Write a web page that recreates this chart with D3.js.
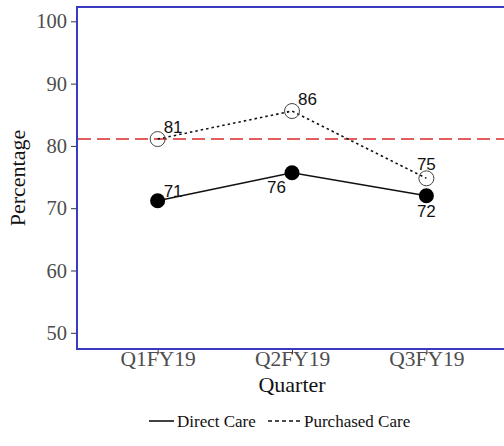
<!DOCTYPE html>
<html><head><meta charset="utf-8">
<script src="https://cdn.jsdelivr.net/npm/d3@7"></script>
<style>body{margin:0;background:#fff}svg{display:block}</style>
</head><body><svg id="c" width="504" height="446"></svg>
<script>
const quarters = ["Q1FY19", "Q2FY19", "Q3FY19"];
const directCare = [71.2, 75.7, 72.0];
const purchasedCare = [81.1, 85.6, 74.8];
const directLabels = ["71", "76", "72"];
const purchasedLabels = ["81", "86", "75"];
const benchmark = 81.1;
const yTicks = [50, 60, 70, 80, 90, 100];

const svg = d3.select("#c");
const L = 77, T = 7, R = 507, B = 349;
const x = d3.scalePoint().domain(quarters).range([L, R]).padding(0.6);
const y = d3.scaleLinear().domain([47.4, 102.3]).range([B, T]);

// axes
const yAxis = svg.append("g").attr("transform", `translate(${L},0)`)
  .call(d3.axisLeft(y).tickValues(yTicks).tickSize(6).tickPadding(4));
yAxis.select(".domain").remove();
yAxis.selectAll("line").attr("stroke", "#333");
yAxis.selectAll("text").attr("font-family", "Liberation Serif").attr("font-size", 20.5).attr("fill", "#4d4d4d");

const xAxis = svg.append("g").attr("transform", `translate(0,${B})`)
  .call(d3.axisBottom(x).tickSize(5).tickPadding(3));
xAxis.select(".domain").remove();
xAxis.selectAll("line").attr("stroke", "#333");
xAxis.selectAll("text").attr("font-family", "Liberation Serif").attr("font-size", 21.5).attr("fill", "#4d4d4d")
  .attr("y", 17).attr("dy", 0);

// panel border (left, top, bottom)
svg.append("path").attr("d", `M${R},${T}H${L}V${B}H${R}`)
  .attr("fill", "none").attr("stroke", "#3a3ac0").attr("stroke-width", 2);

// benchmark
svg.append("line").attr("x1", L + 1).attr("x2", R).attr("y1", y(benchmark)).attr("y2", y(benchmark))
  .attr("stroke", "#d92a2a").attr("stroke-width", 1.6).attr("stroke-dasharray", "13,6");

const line = d3.line().x((d, i) => x(quarters[i])).y(d => y(d));
svg.append("path").datum(purchasedCare).attr("d", line).attr("fill", "none")
  .attr("stroke", "#111").attr("stroke-width", 1.6).attr("stroke-dasharray", "2.5,3");
svg.append("path").datum(directCare).attr("d", line).attr("fill", "none")
  .attr("stroke", "#111").attr("stroke-width", 1.6);

svg.selectAll(".pc").data(purchasedCare).enter().append("circle")
  .attr("cx", (d, i) => x(quarters[i])).attr("cy", d => y(d)).attr("r", 7.5)
  .attr("fill", "none").attr("stroke", "#444").attr("stroke-width", 1);
svg.selectAll(".dc").data(directCare).enter().append("circle")
  .attr("cx", (d, i) => x(quarters[i])).attr("cy", d => y(d)).attr("r", 7.5)
  .attr("fill", "#000");

// value labels
const pOff = [[6, -6, "start"], [6, -6, "start"], [0, -8, "middle"]];
const dOff = [[6, -4, "start"], [-6, 20, "end"], [0, 21, "middle"]];
function labels(vals, labs, offs) {
  svg.selectAll(null).data(vals).enter().append("text")
    .attr("x", (d, i) => x(quarters[i]) + offs[i][0])
    .attr("y", (d, i) => y(d) + offs[i][1])
    .attr("text-anchor", (d, i) => offs[i][2])
    .attr("font-family", "Liberation Sans").attr("font-size", 17).attr("fill", "#111")
    .text((d, i) => labs[i]);
}
labels(purchasedCare, purchasedLabels, pOff);
labels(directCare, directLabels, dOff);

// axis titles
svg.append("text").attr("x", (L + R) / 2).attr("y", 392).attr("text-anchor", "middle")
  .attr("font-family", "Liberation Serif").attr("font-size", 22).attr("fill", "#111").text("Quarter");
svg.append("text").attr("transform", `translate(25,${(T + B) / 2}) rotate(-90)`).attr("text-anchor", "middle")
  .attr("font-family", "Liberation Serif").attr("font-size", 22).attr("fill", "#111").text("Percentage");

// legend
const lg = svg.append("g");
lg.append("line").attr("x1", 149).attr("x2", 174).attr("y1", 421).attr("y2", 421).attr("stroke", "#111").attr("stroke-width", 1.6);
lg.append("text").attr("x", 177).attr("y", 427).attr("font-family", "Liberation Serif").attr("font-size", 17).attr("fill", "#111").text("Direct Care");
lg.append("line").attr("x1", 268).attr("x2", 300).attr("y1", 421).attr("y2", 421).attr("stroke", "#111").attr("stroke-width", 1.6).attr("stroke-dasharray", "4,3");
lg.append("text").attr("x", 304).attr("y", 427).attr("font-family", "Liberation Serif").attr("font-size", 17).attr("fill", "#111").text("Purchased Care");
</script></body></html>
